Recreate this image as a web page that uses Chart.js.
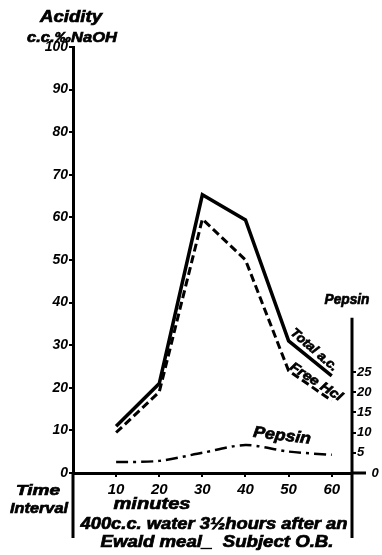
<!DOCTYPE html>
<html>
<head>
<meta charset="utf-8">
<script src="https://cdn.jsdelivr.net/npm/chart.js@4"></script>
<style>
  html, body { margin: 0; padding: 0; background: #fff; }
  canvas { display: block; }
</style>
</head>
<body>
<canvas id="acidChart" width="382" height="555"></canvas>
<script>
// Gastric acidity after 400 c.c. water
const minutes = [10, 20, 30, 40, 50, 60];
const totalAcidity = [11, 21, 65.3, 59.4, 31, 22.8];
const freeHCl = [9.5, 19, 59.6, 50, 24, 17];
const pepsin = [2.7, 3, 5, 6.9, 5.3, 4.5];
const minuteTicks = [10, 20, 30, 40, 50, 60];
const acidityTicks = [0, 10, 20, 30, 40, 50, 60, 70, 80, 90, 100];
const pepsinTicks = [0, 5, 10, 15, 20, 25];

const FONT = '"Liberation Sans", Arial, sans-serif';

function pts(ys) {
  return ys.map((y, i) => ({ x: minutes[i], y: y }));
}

function fitText(ctx, text, x, y, w, size, angle) {
  ctx.save();
  ctx.font = "italic bold " + size + "px " + FONT;
  const m = ctx.measureText(text).width;
  ctx.translate(x, y);
  if (angle) ctx.rotate(angle * Math.PI / 180);
  ctx.scale(w / m, 1);
  ctx.fillStyle = "#000";
  ctx.strokeStyle = "#000";
  ctx.lineWidth = 0.7;
  ctx.textAlign = "center";
  ctx.textBaseline = "middle";
  ctx.fillText(text, 0, 0);
  ctx.strokeText(text, 0, 0);
  ctx.restore();
}

const decor = {
  id: "decor",
  afterDraw(chart) {
    const ctx = chart.ctx;
    const a = chart.chartArea;
    const y2 = chart.scales.y2;
    ctx.save();
    ctx.strokeStyle = "#000";
    ctx.lineWidth = 3;
    ctx.beginPath();
    // left axis continues down as a bracket
    ctx.moveTo(a.left, a.bottom);
    ctx.lineTo(a.left, 538);
    // right pepsin axis
    ctx.moveTo(a.right, y2.getPixelForValue(38.4));
    ctx.lineTo(a.right, 538);
    ctx.moveTo(a.right, a.bottom);
    ctx.lineTo(a.right + 14, a.bottom);
    ctx.stroke();
    ctx.restore();

    fitText(ctx, "Acidity", 71, 17, 62, 17);
    fitText(ctx, "c.c.‰NaOH", 72, 38, 90, 15);
    fitText(ctx, "Pepsin", 347, 300, 45, 15);
    fitText(ctx, "Total a.c.", 314, 350, 58, 13, 41);
    fitText(ctx, "Free Hcl", 316, 382, 60, 13, 33);
    fitText(ctx, "Pepsin", 282, 436, 58, 16, 7);
    fitText(ctx, "Time", 38, 491, 44, 15);
    fitText(ctx, "Interval", 39, 509, 58, 15);
    fitText(ctx, "minutes", 152, 504, 77, 17);
    fitText(ctx, "400c.c. water 3½hours after an", 214, 525, 267, 16);
    fitText(ctx, "Ewald meal_  Subject O.B.", 217, 543, 233, 16);
  }
};

new Chart(document.getElementById("acidChart"), {
  type: "line",
  data: {
    datasets: [
      {
        label: "Total a.c.",
        data: pts(totalAcidity),
        borderColor: "#000",
        borderWidth: 3.5,
        pointRadius: 0,
        tension: 0,
        yAxisID: "y",
      },
      {
        label: "Free Hcl",
        data: pts(freeHCl),
        borderColor: "#000",
        borderWidth: 3,
        borderDash: [8, 4],
        pointRadius: 0,
        tension: 0,
        yAxisID: "y",
      },
      {
        label: "Pepsin",
        data: pts(pepsin),
        borderColor: "#000",
        borderWidth: 2.5,
        borderDash: [12, 5, 3, 5],
        pointRadius: 0,
        tension: 0.3,
        yAxisID: "y2",
      },
    ],
  },
  options: {
    responsive: false,
    animation: false,
    devicePixelRatio: 1,
    layout: { padding: { top: 47, left: 0, right: 0, bottom: 0 } },
    plugins: {
      legend: { display: false },
      tooltip: { enabled: false },
    },
    scales: {
      x: {
        type: "linear",
        min: 0,
        max: 64.7,
        afterBuildTicks: (s) => { s.ticks = minuteTicks.map((v) => ({ value: v })); },
        afterFit: (s) => { s.height = 82; },
        border: { display: true, color: "#000", width: 3 },
        grid: { drawOnChartArea: false, drawTicks: true, tickLength: 4, color: "#000", lineWidth: 2 },
        ticks: {
          color: "#000",
          padding: 4,
          maxRotation: 0,
          font: { family: FONT, size: 15, style: "italic", weight: "bold" },
        },
      },
      y: {
        position: "left",
        min: 0,
        max: 100,
        afterBuildTicks: (s) => { s.ticks = acidityTicks.map((v) => ({ value: v })); },
        afterFit: (s) => { s.width = 73; },
        border: { display: true, color: "#000", width: 3 },
        grid: { drawOnChartArea: false, drawTicks: true, tickLength: 4, color: "#000", lineWidth: 2 },
        ticks: {
          color: "#000",
          padding: 1,
          font: { family: FONT, size: 14, style: "italic", weight: "bold" },
        },
      },
      y2: {
        position: "right",
        min: 0,
        max: 105.4,
        afterBuildTicks: (s) => { s.ticks = pepsinTicks.map((v) => ({ value: v })); },
        afterFit: (s) => { s.width = 30; },
        border: { display: false },
        grid: { drawOnChartArea: false, drawTicks: true, tickLength: 4, color: "#000", lineWidth: 2 },
        ticks: {
          color: "#000",
          padding: 1,
          callback: (v) => (v === 0 ? "    0" : String(v)),
          font: { family: FONT, size: 13, style: "italic", weight: "bold" },
        },
      },
    },
  },
  plugins: [decor],
});
</script>
</body>
</html>
